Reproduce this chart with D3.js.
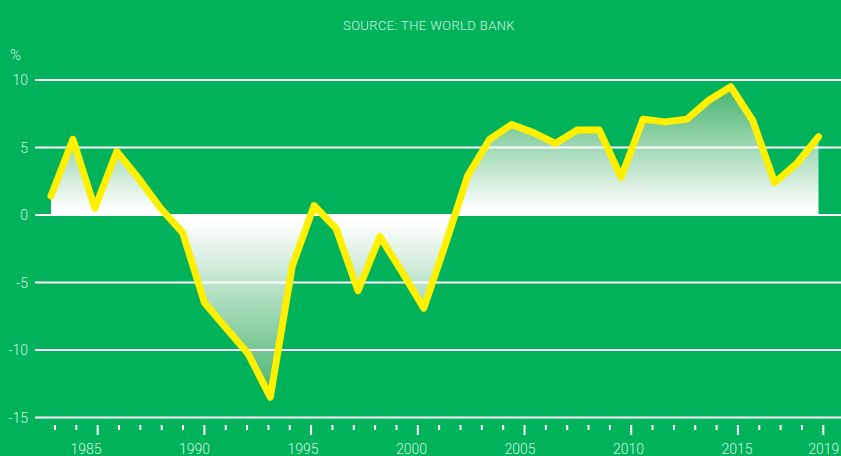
<!DOCTYPE html>
<html>
<head>
<meta charset="utf-8">
<script src="https://cdn.jsdelivr.net/npm/d3@7"></script>
<style>
  html, body { margin: 0; padding: 0; background: #00b25a; }
  text { font-family: Roboto, "Liberation Sans", sans-serif; }
</style>
</head>
<body>
<div id="wrapper"></div>
<script>
// GDP growth, annual % (source: The World Bank)
const years = d3.range(1983, 2019)
const growth = [
    1.4, 5.6, 0.5, 4.7, 2.7, 0.5, -1.3,
    -6.5, -8.4, -10.3, -13.5, -3.8, 0.7, -1.0, -5.6, -1.6, -4.2,
    -6.9, -2.1, 2.9, 5.6, 6.7, 6.1, 5.3, 6.3, 6.3, 2.8,
    7.1, 6.9, 7.1, 8.5, 9.5, 7.0, 2.4, 3.8, 5.8,
]
const tickYears = d3.range(1983, 2020)
const labelYears = [1985, 1990, 1995, 2000, 2005, 2010, 2015, 2019]
const yTicks = [10, 5, 0, -5, -10, -15]
const sourceText = "SOURCE: THE WORLD BANK"

const dataset = years.map((year, i) => ({ year, value: growth[i] }))

let dimensions = {
    width: 841,
    height: 456,
}

const wrapper = d3.select("#wrapper")
    .append("svg")
    .attr("width", dimensions.width)
    .attr("height", dimensions.height)
    .style("display", "block")

wrapper.append("rect")
    .attr("width", dimensions.width)
    .attr("height", dimensions.height)
    .attr("fill", "#00b25a")

// scales
const xScaler = d3.scaleLinear()
    .domain([1983, 2018])
    .range([51, 818.5])

const tickScaler = d3.scaleLinear()
    .domain([1983, 2019])
    .range([55, 823.3])

const labelScaler = d3.scaleLinear()
    .domain([1985, 2015])
    .range([86, 737])

const yScaler = d3.scaleLinear()
    .domain([-15, 10])
    .range([417.5, 80])

const xAccessor = d => xScaler(d.year)
const yAccessor = d => yScaler(d.value)

// gradients + clips
const defs = wrapper.append("defs")

const makeGradient = (id, from, to) => {
    const g = defs.append("linearGradient")
        .attr("id", id)
        .attr("gradientUnits", "userSpaceOnUse")
        .attr("x1", 0).attr("x2", 0)
        .attr("y1", yScaler(from)).attr("y2", yScaler(to))
    g.append("stop").attr("offset", 0).attr("stop-color", "#ffffff")
    g.append("stop").attr("offset", 0.06).attr("stop-color", "#fbfdfb")
    g.append("stop").attr("offset", 1).attr("stop-color", "#44b36c")
}
makeGradient("grad-pos", 0, d3.max(growth))
makeGradient("grad-neg", 0, d3.min(growth))

defs.append("clipPath").attr("id", "clip-pos")
    .append("rect")
    .attr("x", 0).attr("y", 0)
    .attr("width", dimensions.width)
    .attr("height", yScaler(0))
defs.append("clipPath").attr("id", "clip-neg")
    .append("rect")
    .attr("x", 0).attr("y", yScaler(0))
    .attr("width", dimensions.width)
    .attr("height", dimensions.height - yScaler(0))

const areaGenerator = d3.area()
    .x(xAccessor)
    .y0(yScaler(0))
    .y1(yAccessor)

const bounds = wrapper.append("g")

bounds.append("path")
    .attr("d", areaGenerator(dataset))
    .attr("fill", "url(#grad-pos)")
    .attr("clip-path", "url(#clip-pos)")

bounds.append("path")
    .attr("d", areaGenerator(dataset))
    .attr("fill", "url(#grad-neg)")
    .attr("clip-path", "url(#clip-neg)")

// gridlines + y labels
const grid = bounds.append("g").attr("class", "grid")
grid.selectAll("line")
    .data(yTicks)
    .join("line")
    .attr("x1", 35)
    .attr("x2", dimensions.width)
    .attr("y1", d => yScaler(d))
    .attr("y2", d => yScaler(d))
    .attr("stroke", "#ffffff")
    .attr("stroke-width", 2)

grid.selectAll("text")
    .data(yTicks)
    .join("text")
    .attr("x", 28)
    .attr("y", d => yScaler(d))
    .attr("dy", "0.36em")
    .attr("text-anchor", "end")
    .attr("fill", "#d6f3e1")
    .attr("font-size", "14px")
    .attr("font-weight", 300)
    .text(d => d)

wrapper.append("text")
    .attr("x", 10)
    .attr("y", 60)
    .attr("fill", "#d6f3e1")
    .attr("font-size", "15px")
    .attr("font-weight", 300)
    .text("%")

// x ticks
const xAxis = bounds.append("g").attr("class", "x-axis")
xAxis.selectAll("line")
    .data(tickYears)
    .join("line")
    .attr("x1", d => tickScaler(d))
    .attr("x2", d => tickScaler(d))
    .attr("y1", 425)
    .attr("y2", d => labelYears.includes(d) ? 435 : 430)
    .attr("stroke", "#ffffff")
    .attr("stroke-width", 2)

xAxis.selectAll("text")
    .data(labelYears)
    .join("text")
    .attr("x", d => labelScaler(d))
    .attr("y", 454)
    .attr("text-anchor", "middle")
    .attr("fill", "#d6f3e1")
    .attr("font-size", "14px")
    .attr("font-weight", 300)
    .text(d => d)

// line
const lineGenerator = d3.line()
    .x(xAccessor)
    .y(yAccessor)

bounds.append("path")
    .attr("d", lineGenerator(dataset))
    .attr("fill", "none")
    .attr("stroke", "#fff000")
    .attr("stroke-width", 7)
    .attr("stroke-linejoin", "round")
    .attr("stroke-linecap", "round")

// source
wrapper.append("text")
    .attr("x", 429)
    .attr("y", 30)
    .attr("text-anchor", "middle")
    .attr("fill", "#d6f3e1")
    .attr("font-size", "13px")
    .attr("font-weight", 300)
    .attr("letter-spacing", "0.4px")
    .text(sourceText)
</script>
</body>
</html>
